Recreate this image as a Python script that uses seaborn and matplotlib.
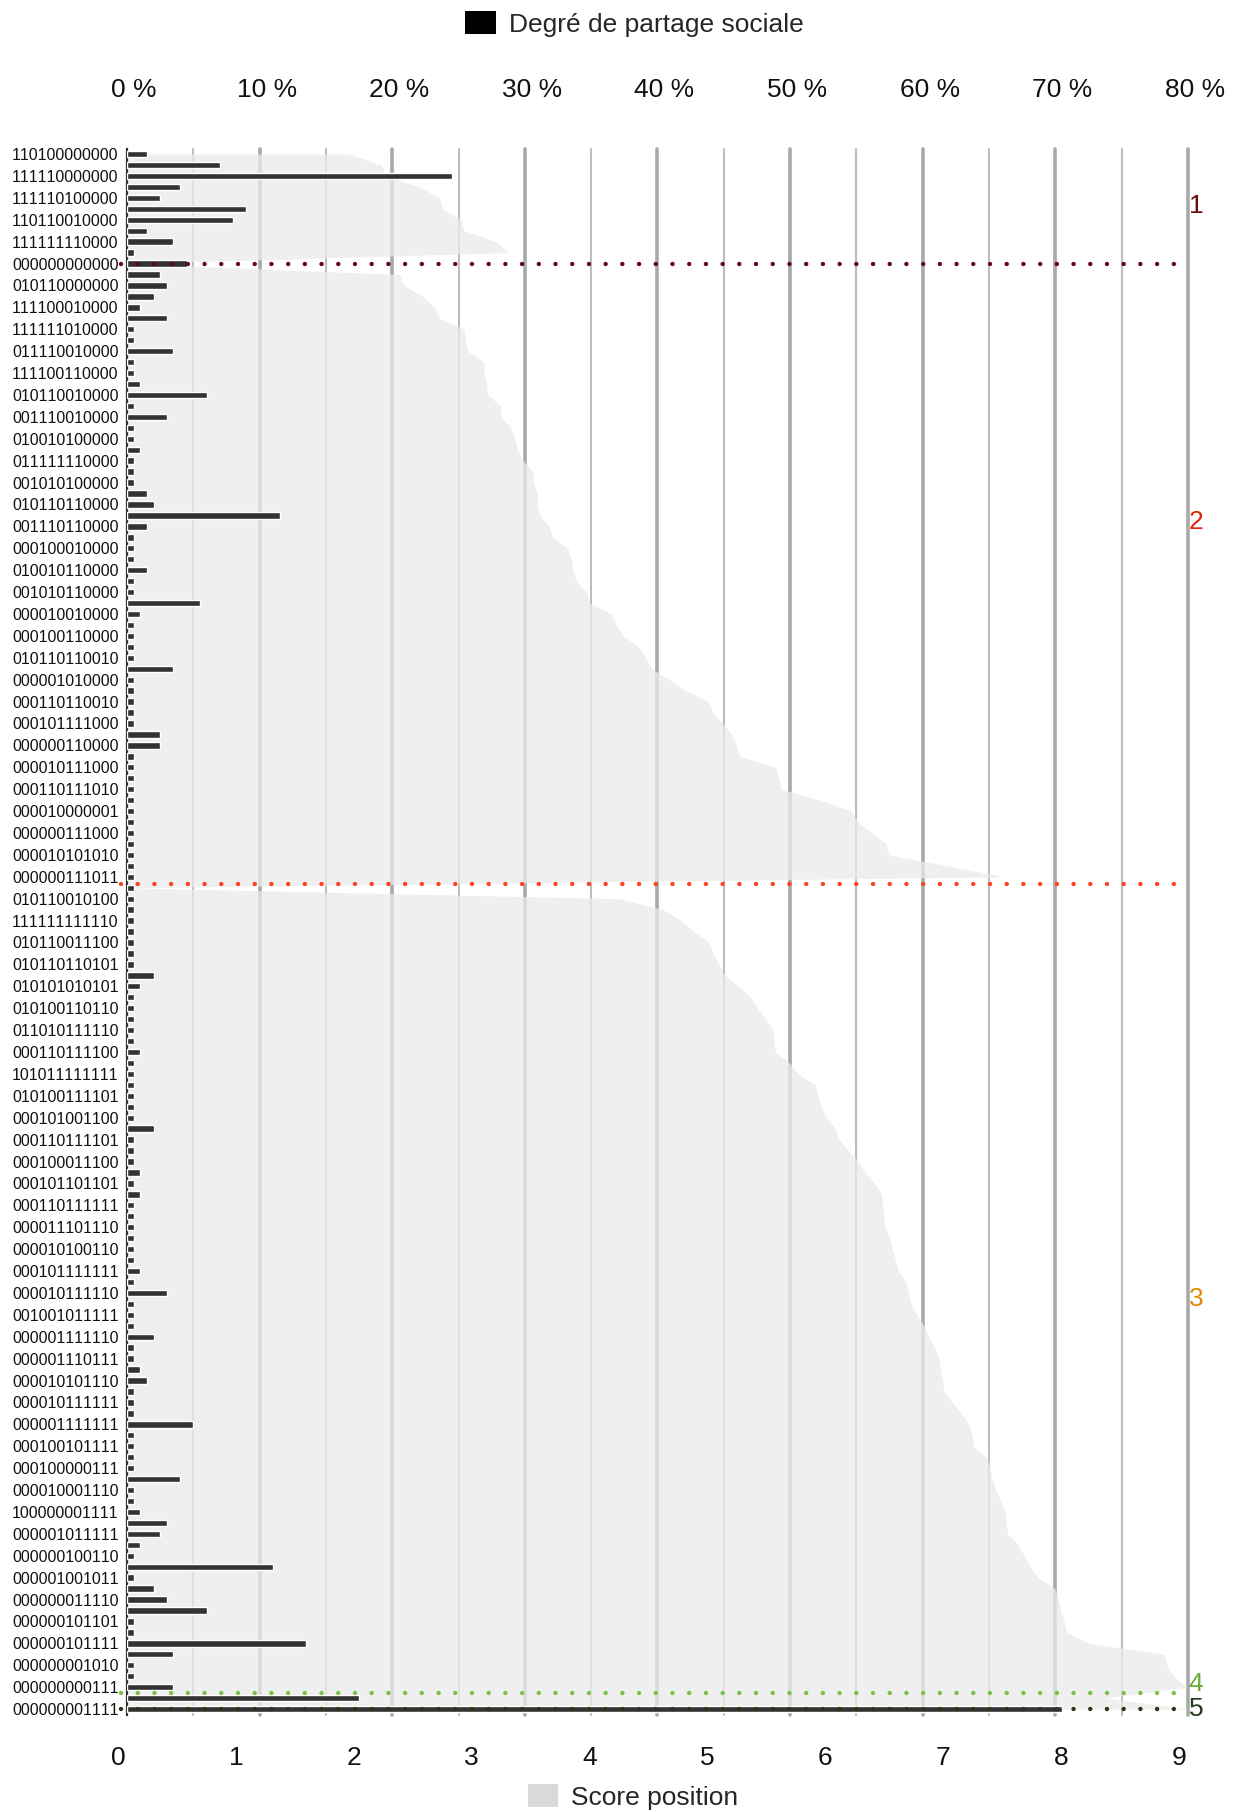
import numpy as np
import pandas as pd
import matplotlib
matplotlib.use("Agg")
import matplotlib.pyplot as plt
import matplotlib.transforms as mtransforms
from matplotlib.patches import Patch
import seaborn as sns

# ---- data -------------------------------------------------------------
# labels printed on every second row (rows 0, 2, 4, ...)
shown_labels = [
    "110100000000", "111110000000", "111110100000", "110110010000", "111111110000",
    "000000000000", "010110000000", "111100010000", "111111010000", "011110010000",
    "111100110000", "010110010000", "001110010000", "010010100000", "011111110000",
    "001010100000", "010110110000", "001110110000", "000100010000", "010010110000",
    "001010110000", "000010010000", "000100110000", "010110110010", "000001010000",
    "000110110010", "000101111000", "000000110000", "000010111000", "000110111010",
    "000010000001", "000000111000", "000010101010", "000000111011", "010110010100",
    "111111111110", "010110011100", "010110110101", "010101010101", "010100110110",
    "011010111110", "000110111100", "101011111111", "010100111101", "000101001100",
    "000110111101", "000100011100", "000101101101", "000110111111", "000011101110",
    "000010100110", "000101111111", "000010111110", "001001011111", "000001111110",
    "000001110111", "000010101110", "000010111111", "000001111111", "000100101111",
    "000100000111", "000010001110", "100000001111", "000001011111", "000000100110",
    "000001001011", "000000011110", "000000101101", "000000101111", "000000001010",
    "000000000111", "000000001111",
]

# Degré de partage sociale (%), one value per row
share_pct = [
    1.5, 7.0, 24.5, 4.0, 2.5, 9.0, 8.0, 1.5, 3.5, 0.5,
    4.5, 2.5, 3.0, 2.0, 1.0, 3.0, 0.5, 0.5, 3.5, 0.5,
    0.5, 1.0, 6.0, 0.5, 3.0, 0.5, 0.5, 1.0, 0.5, 0.5,
    0.5, 1.5, 2.0, 11.5, 1.5, 0.5, 0.5, 0.5, 1.5, 0.5,
    0.5, 5.5, 1.0, 0.5, 0.5, 0.5, 0.5, 3.5, 0.5, 0.5,
    0.5, 0.5, 0.5, 2.5, 2.5, 0.5, 0.5, 0.5, 0.5, 0.5,
    0.5, 0.5, 0.5, 0.5, 0.5, 0.5, 0.5, 0.5, 0.5, 0.5,
    0.5, 0.5, 0.5, 0.5, 0.5, 2.0, 1.0, 0.5, 0.5, 0.5,
    0.5, 0.5, 1.0, 0.5, 0.5, 0.5, 0.5, 0.5, 0.5, 2.0,
    0.5, 0.5, 0.5, 1.0, 0.5, 1.0, 0.5, 0.5, 0.5, 0.5,
    0.5, 0.5, 1.0, 0.5, 3.0, 0.5, 0.5, 0.5, 2.0, 0.5,
    0.5, 1.0, 1.5, 0.5, 0.5, 0.5, 5.0, 0.5, 0.5, 0.5,
    0.5, 4.0, 0.5, 0.5, 1.0, 3.0, 2.5, 1.0, 0.5, 11.0,
    0.5, 2.0, 3.0, 6.0, 0.5, 0.5, 13.5, 3.5, 0.5, 0.5,
    3.5, 17.5, 70.5,
]

# Score position, one value per row
score_group1 = [1.88, 2.16, 2.19, 2.48, 2.65, 2.68, 2.83, 2.86, 3.13, 3.24]
score_group2 = [
    2.31, 2.35, 2.51, 2.61, 2.65, 2.86, 2.87, 2.89, 3.03, 3.03,
    3.05, 3.06, 3.17, 3.17, 3.26, 3.29, 3.31, 3.36, 3.44, 3.45,
    3.48, 3.48, 3.50, 3.58, 3.61, 3.74, 3.77, 3.78, 3.81, 3.90,
    3.92, 4.11, 4.15, 4.21, 4.34, 4.40, 4.45, 4.60, 4.74, 4.93,
    4.97, 5.05, 5.13, 5.17, 5.20, 5.50, 5.53, 5.55, 5.88, 6.14,
    6.20, 6.32, 6.44, 6.46, 6.95, 7.44,
]
score_group3 = [
    4.18, 4.55, 4.70, 4.81, 4.94, 4.97, 5.02, 5.07, 5.19, 5.29,
    5.35, 5.42, 5.48, 5.49, 5.50, 5.62, 5.69, 5.84, 5.86, 5.89,
    5.93, 6.01, 6.04, 6.12, 6.20, 6.26, 6.34, 6.40, 6.41, 6.42,
    6.43, 6.47, 6.49, 6.52, 6.54, 6.61, 6.63, 6.65, 6.70, 6.76,
    6.80, 6.85, 6.89, 6.90, 6.92, 6.93, 7.00, 7.08, 7.14, 7.17,
    7.18, 7.29, 7.32, 7.34, 7.37, 7.41, 7.45, 7.46, 7.47, 7.56,
    7.61, 7.66, 7.73, 7.87, 7.90, 7.92, 7.95, 7.97, 8.16, 8.80,
    8.82, 8.88, 8.99,
]
score_tail = [8.30, 9.00]
score_pos = score_group1 + [0.0] + score_group2 + [0.0] + score_group3 + score_tail

# group separators (row positions) and group captions
sep_rows = [10.0, 66.7, 140.55, 142.0]
sep_colors = ["#5e0c0c", "#ff4320", "#7cc242", "#243a18"]
group_names = ["1", "2", "3", "4", "5"]
group_rows = [4.7, 33.6, 104.6, 139.75, 142.0]
group_colors = ["#6b0b0b", "#e2230d", "#e08c00", "#6aab3a", "#22391a"]

pct_ticks = [0, 10, 20, 30, 40, 50, 60, 70, 80]
score_ticks = [0, 1, 2, 3, 4, 5, 6, 7, 8, 9]

# ---- figure -----------------------------------------------------------
sns.set_theme(style="white")
plt.rcParams["font.family"] = ["Liberation Sans", "DejaVu Sans"]
# tabular digits: keep the binary codes evenly spaced
plt.rcParams["text.kerning_factor"] = 8

rows = np.arange(len(share_pct))
df = pd.DataFrame({"row": rows, "share": share_pct, "score": score_pos})

fig = plt.figure(figsize=(12.39, 18.12), dpi=100)
ax = fig.add_axes([0.1025, 0.0538, 0.8563, 0.8642])
ax2 = ax.twiny()

ax.set_xlim(0, 9)
ax2.set_xlim(0, 80)

# vertical grid taken from the percentage scale, every 5 %
for p in range(5, 81, 5):
    xs = p * 9 / 80
    major = p % 10 == 0
    ax.axvline(xs, color="#a9a9a9" if major else "#bdbdbd",
               lw=2.6 if major else 1.5, zorder=1, clip_on=False)

# score area
ax.fill_betweenx(df["row"], 0, df["score"], color="#eaeaea", alpha=0.76,
                 lw=0, zorder=2)

# share bars
sns.barplot(data=df, x="share", y="row", orient="h", ax=ax2,
            color="#333333", saturation=1, width=0.58, zorder=3)
ax2.set_xlim(0, 80)
ax2.set_xlabel("")
ax2.set_ylabel("")

# group separators and captions
for r, c in zip(sep_rows, sep_colors):
    ax2.plot([-0.45, 80.0], [r, r], color=c, lw=3.2,
             linestyle=(0, (0.01, 3.75)), dash_capstyle="round",
             zorder=5, clip_on=False)
for name, r, c in zip(group_names, group_rows, group_colors):
    ax2.text(80.6, r, name, color=c, fontsize=19, ha="center", va="center",
             clip_on=False, zorder=6)

ax.set_ylim(len(share_pct) - 0.5, -0.5)
ax.set_yticks(rows[::2])
ax.set_yticklabels(shown_labels, fontsize=11.5, color="#111111")
ax.tick_params(axis="y", length=0, pad=6)

ax.set_xticks(score_ticks)
ax.set_xticklabels([str(t) for t in score_ticks], fontsize=19, color="#111111")
ax.tick_params(axis="x", length=0, pad=23)
ax2.set_xticks(pct_ticks)
ax2.set_xticklabels([f"{t} %" for t in pct_ticks], fontsize=19, color="#111111")
ax2.tick_params(axis="x", length=0, pad=33.5)

shift_bottom = mtransforms.ScaledTranslation(-9 / 100, 0, fig.dpi_scale_trans)
for lab in ax.get_xticklabels():
    lab.set_transform(lab.get_transform() + shift_bottom)
shift_top = mtransforms.ScaledTranslation(7 / 100, 0, fig.dpi_scale_trans)
for lab in ax2.get_xticklabels():
    lab.set_transform(lab.get_transform() + shift_top)

for a in (ax, ax2):
    for side in ("top", "right", "bottom", "left"):
        a.spines[side].set_visible(False)
    a.grid(False)
ax.spines["left"].set_visible(True)
ax.spines["left"].set_color("#333333")
ax.spines["left"].set_linewidth(1.6)
ax.set_facecolor("white")

# legends
fig.legend(handles=[Patch(facecolor="black", edgecolor="none")],
           labels=["Degré de partage sociale"], loc="center",
           bbox_to_anchor=(0.512, 1 - 24 / 1812), frameon=False, fontsize=19,
           handlelength=1.15, handleheight=0.95, handletextpad=0.5)
fig.legend(handles=[Patch(facecolor="#d9d9d9", edgecolor="none")],
           labels=["Score position"], loc="center",
           bbox_to_anchor=(0.511, 1 - 1797 / 1812), frameon=False, fontsize=19,
           handlelength=1.15, handleheight=0.95, handletextpad=0.5)

fig.savefig("out.png", dpi=100, facecolor="white")
